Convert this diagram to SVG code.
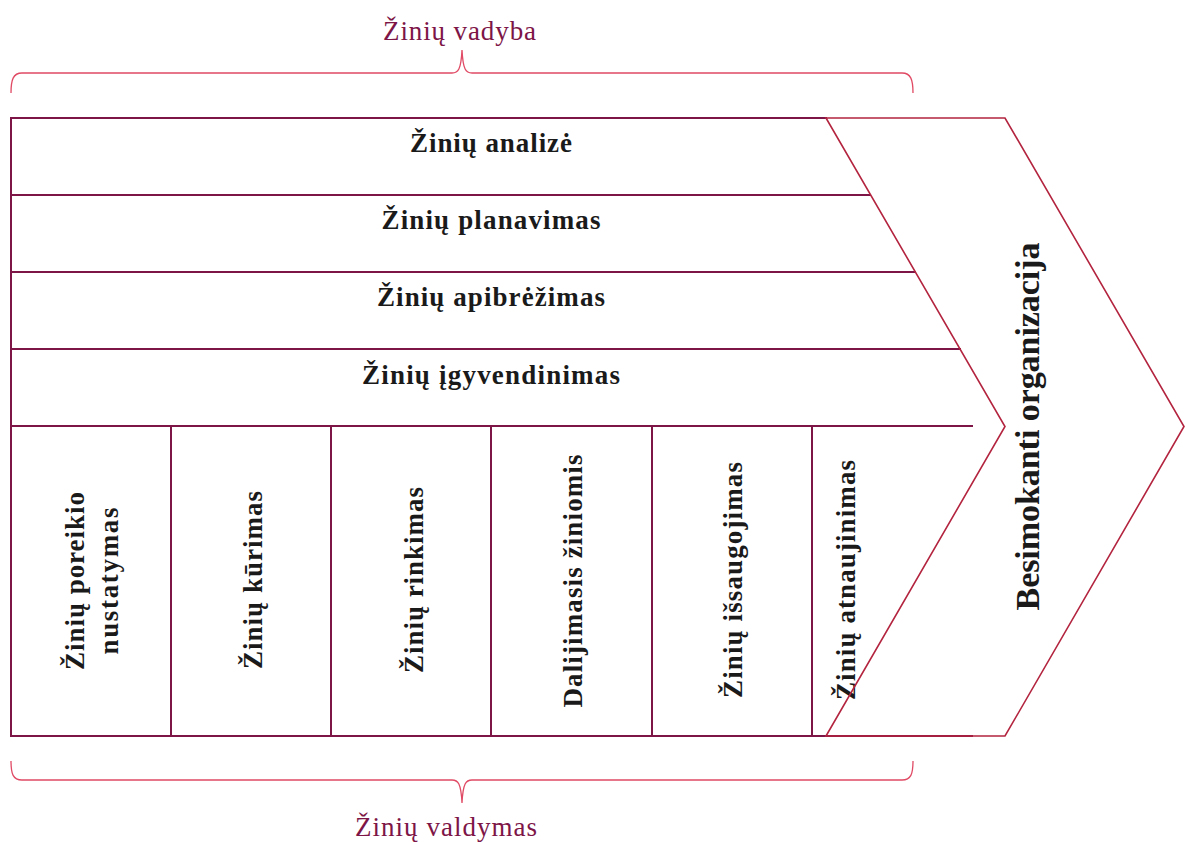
<svg xmlns="http://www.w3.org/2000/svg" width="1185" height="842" viewBox="0 0 1185 842">
  <style>
    .bg { fill: #ffffff; }
    .grid { stroke: #7d1547; stroke-width: 2; fill: none; stroke-linecap: square; }
    .chev { stroke: #b3243f; stroke-width: 1.6; fill: none; stroke-linejoin: miter; }
    .brace { stroke: #e04a64; stroke-width: 1.3; fill: none; }
    .cap { font-family: "Liberation Serif", "Times New Roman", serif; font-size: 27px; fill: #7d1547; }
    .lbl { font-family: "Liberation Serif", "Times New Roman", serif; font-size: 27px; font-weight: bold; fill: #1a1a1a; text-anchor: middle; }
    .big { font-family: "Liberation Serif", "Times New Roman", serif; font-size: 34px; font-weight: bold; fill: #1a1a1a; text-anchor: middle; }
  </style>

  <rect class="bg" x="0" y="0" width="1185" height="842"/>

  <!-- braces with their captions -->
  <g id="management">
    <path class="brace" d="M11,93 C11,80 13,73 22,73 L452,73 C458,73 461,70 462,50 C463,70 466,73 472,73 L902,73 C911,73 913,80 913,93"/>
    <text class="cap" x="383" y="40" textLength="153">Žinių vadyba</text>
  </g>
  <g id="control">
    <path class="brace" d="M11,761 C11,774 13,780 22,780 L452,780 C458,780 461,783 462,803 C463,783 466,780 472,780 L902,780 C911,780 913,774 913,761"/>
    <text class="cap" x="355" y="836" textLength="182">Žinių valdymas</text>
  </g>

  <!-- row and column frame lines -->
  <g id="connectors">
    <line class="grid" x1="11" y1="118" x2="826" y2="118"/>
    <line class="grid" x1="11" y1="195" x2="870" y2="195"/>
    <line class="grid" x1="11" y1="272" x2="915" y2="272"/>
    <line class="grid" x1="11" y1="349" x2="960" y2="349"/>
    <line class="grid" x1="11" y1="426" x2="972" y2="426"/>
    <line class="grid" x1="11" y1="736" x2="972" y2="736"/>
    <line class="grid" x1="11" y1="118" x2="11" y2="736"/>
    <line class="grid" x1="171" y1="426" x2="171" y2="736"/>
    <line class="grid" x1="331" y1="426" x2="331" y2="736"/>
    <line class="grid" x1="491" y1="426" x2="491" y2="736"/>
    <line class="grid" x1="652" y1="426" x2="652" y2="736"/>
    <line class="grid" x1="812" y1="426" x2="812" y2="736"/>
  </g>

  <!-- horizontal stages -->
  <g id="row-analysis">
    <text class="lbl" x="491" y="152" textLength="162">Žinių analizė</text>
  </g>
  <g id="row-planning">
    <text class="lbl" x="491" y="229" textLength="219">Žinių planavimas</text>
  </g>
  <g id="row-definition">
    <text class="lbl" x="491" y="306" textLength="228">Žinių apibrėžimas</text>
  </g>
  <g id="row-implementation">
    <text class="lbl" x="491" y="384" textLength="258">Žinių įgyvendinimas</text>
  </g>

  <!-- vertical process columns -->
  <g id="col-needs">
    <text class="lbl" transform="translate(84,581) rotate(-90)" x="0" y="0" textLength="178">Žinių poreikio</text>
    <text class="lbl" transform="translate(118,581) rotate(-90)" x="0" y="0" textLength="147">nustatymas</text>
  </g>
  <g id="col-creation">
    <text class="lbl" transform="translate(262,580) rotate(-90)" x="0" y="0" textLength="178">Žinių kūrimas</text>
  </g>
  <g id="col-collection">
    <text class="lbl" transform="translate(423,580) rotate(-90)" x="0" y="0" textLength="186">Žinių rinkimas</text>
  </g>
  <g id="col-sharing">
    <text class="lbl" transform="translate(582,581) rotate(-90)" x="0" y="0" textLength="253">Dalijimasis žiniomis</text>
  </g>
  <g id="col-storage">
    <text class="lbl" transform="translate(742,580) rotate(-90)" x="0" y="0" textLength="236">Žinių išsaugojimas</text>
  </g>
  <g id="col-renewal">
    <text class="lbl" transform="translate(855,580) rotate(-90)" x="0" y="0" textLength="240">Žinių atnaujinimas</text>
  </g>

  <!-- chevron -->
  <g id="learning-organization">
    <polygon class="chev" points="826,118 1005,118 1184,426.5 1005,736 826,736 1005,426.5"/>
    <text class="big" transform="translate(1039,426.5) rotate(-90)" x="0" y="0" textLength="368">Besimokanti organizacija</text>
  </g>
</svg>
